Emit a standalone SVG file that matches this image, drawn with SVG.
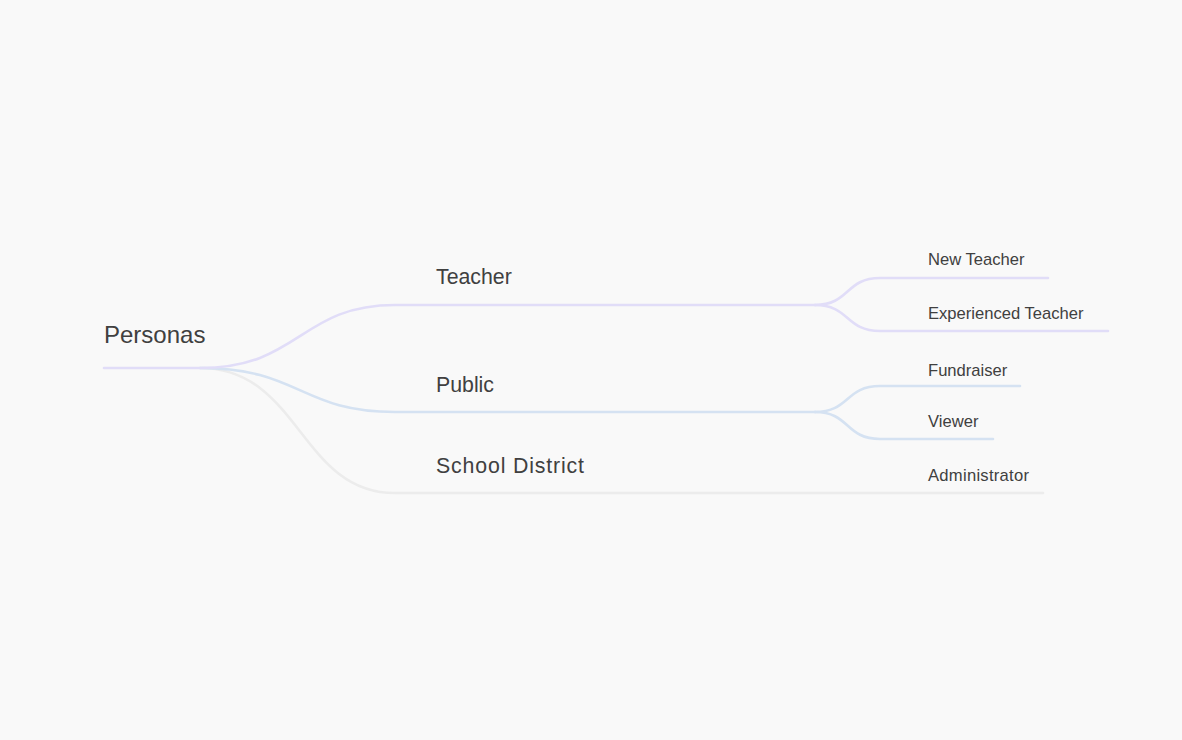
<svg xmlns="http://www.w3.org/2000/svg" width="1182" height="740" viewBox="0 0 1182 740">
<style>
.t{font-family:"Liberation Sans",Arial,sans-serif;fill:#404040}
.l1{font-size:24px}.l2{font-size:21.3px}.l3{font-size:16.6px}
.c{fill:none;stroke-width:2.6;stroke-linecap:round}
.pu{stroke:#e1ddf8}.bl{stroke:#d5e2f2}.gr{stroke:#ececec}
</style>
<rect width="1182" height="740" fill="#f9f9f9"/>
<g id="connectors">
<path class="c gr" d="M200 368 C 300 368, 300 493, 395 493 L 1043 493"/>
<path class="c bl" d="M200 368 C 300 368, 300 412, 395 412 L 815 412"/>
<path class="c pu" d="M104 368 L 200 368 C 300 368, 300 305, 395 305 L 815 305"/>
<path class="c pu" d="M815 305 C 850 305, 845 278, 880 278 L 1048 278"/>
<path class="c pu" d="M815 305 C 850 305, 845 331, 880 331 L 1108 331"/>
<path class="c bl" d="M815 412 C 850 412, 845 386, 880 386 L 1020 386"/>
<path class="c bl" d="M815 412 C 850 412, 845 439, 880 439 L 993 439"/>
</g>
<g id="personas"><text class="t l1" x="104" y="343">Personas</text></g>
<g id="teacher"><text class="t l2" x="436" y="284">Teacher</text></g>
<g id="public"><text class="t l2" x="436" y="392">Public</text></g>
<g id="school-district"><text class="t l2" x="436" y="473" textLength="148" lengthAdjust="spacing">School District</text></g>
<g id="new-teacher"><text class="t l3" x="928" y="265">New Teacher</text></g>
<g id="experienced-teacher"><text class="t l3" x="928" y="319">Experienced Teacher</text></g>
<g id="fundraiser"><text class="t l3" x="928" y="376">Fundraiser</text></g>
<g id="viewer"><text class="t l3" x="928" y="427">Viewer</text></g>
<g id="administrator"><text class="t l3" x="928" y="481" textLength="101" lengthAdjust="spacing">Administrator</text></g>
</svg>
